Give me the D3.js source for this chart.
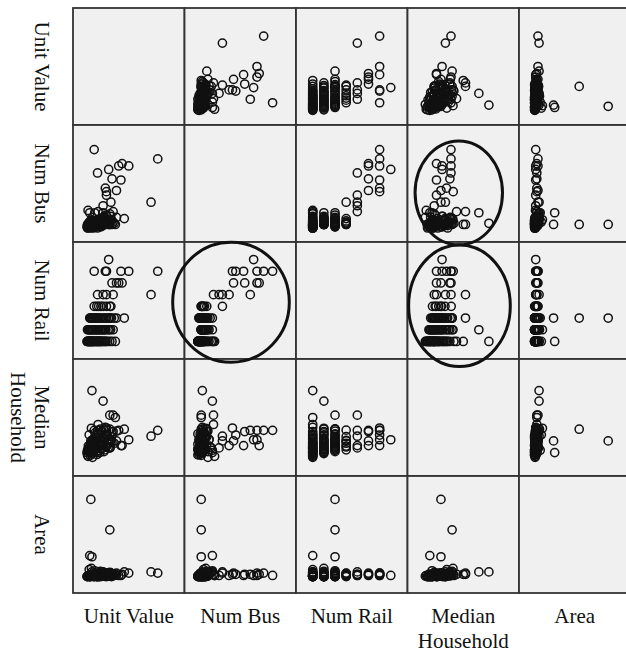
<!DOCTYPE html>
<html>
<head>
<meta charset="utf-8">
<script src="https://cdn.jsdelivr.net/npm/d3@7/dist/d3.min.js"></script>
<style>
  body { margin: 0; background: #fff; }
  svg { display: block; }
</style>
</head>
<body>
<svg id="chart" width="626" height="654"></svg>
<script>
// Variables of the scatterplot matrix, in row / column order
const variables = ['Unit Value', 'Num Bus', 'Num Rail', 'Median Household', 'Area'];

// One value per city in each array (same index = same record)
const unitValue = [
  608, 560, 152, 400, 352, 344, 280, 256, 176, 272, 240, 232, 216, 240, 368, 328, 312, 288, 128, 264, 120, 136, 136, 216, 264, 304,
  104, 112, 120, 128, 136, 144, 152, 160, 168, 176, 184, 192, 200, 208, 216, 224, 232, 248, 264, 280, 108, 116, 140, 180,
  100, 110, 124, 132, 146, 158, 172, 190, 204, 236,
  104, 118, 126, 138, 150, 158, 170, 186, 196, 210, 222, 236, 252, 270, 288, 132, 176,
  110, 122, 144, 164, 180, 202, 228, 260,
  120, 134, 148, 162, 178, 194, 206, 220, 238, 254, 276, 296, 312, 156,
  126, 142, 170, 186, 230, 266,
  152, 184, 216, 240, 264, 170, 200
];
const numBus = [
  59, 22, 67, 53, 55, 41, 42, 50, 47, 22, 28, 34, 19, 31, 8, 53, 32, 14, 3, 3, 13, 3, 4, 13, 3, 3,
  0, 1, 2, 0, 3, 1, 4, 2, 5, 0, 6, 3, 1, 8, 2, 10, 4, 7, 12, 3, 15, 5, 9, 14,
  1, 0, 3, 2, 0, 5, 1, 2, 4, 6,
  3, 4, 5, 3, 6, 4, 7, 5, 8, 3, 9, 6, 4, 10, 5, 7, 4,
  3, 5, 4, 6, 3, 5, 7, 4,
  1, 2, 4, 3, 6, 2, 8, 5, 11, 3, 7, 4, 9, 13,
  3, 1, 5, 2, 4, 6,
  3, 5, 8, 4, 6, 4, 3
];
const numRail = [
  6, 4, 6, 6, 5, 6, 5, 7, 4, 3, 4, 6, 4, 6, 2, 5, 5, 4, 2, 2, 0, 2, 0, 1, 2, 0,
  0, 0, 0, 0, 0, 0, 0, 0, 0, 0, 0, 0, 0, 0, 0, 0, 0, 0, 0, 0, 0, 0, 0, 0,
  0, 0, 0, 0, 0, 0, 0, 0, 0, 0,
  1, 1, 1, 1, 1, 1, 1, 1, 1, 1, 1, 1, 1, 1, 1, 1, 1,
  1, 1, 1, 1, 1, 1, 1, 1,
  2, 2, 2, 2, 2, 2, 2, 2, 2, 2, 2, 2, 2, 2,
  2, 2, 2, 2, 2, 2,
  3, 3, 3, 3, 3, 3, 3
];
const medianHousehold = [
  97.5, 85, 97.5, 77.5, 65, 65, 95, 77.5, 97.5, 75, 65, 87.5, 60, 102.5, 100, 97.5, 75, 130, 75, 100, 50, 75, 182.5, 160, 130, 125,
  45, 52, 60, 68, 48, 75, 55, 82, 62, 90, 70, 50, 58, 95, 66, 78, 104, 85, 60, 72, 42, 88, 40, 110,
  50, 58, 44, 64, 56, 70, 46, 54, 80, 62,
  55, 62, 70, 48, 80, 92, 58, 66, 100, 74, 52, 86, 60, 78, 95, 102, 50,
  64, 52, 76, 58, 88, 68, 56, 72,
  56, 64, 72, 58, 80, 90, 68, 100, 62, 76, 84, 70, 96, 55,
  62, 78, 52, 66, 88, 60,
  56, 70, 84, 98, 62, 64, 76
];
const area = [
  3.5, 4, 2.5, 3.5, 3, 2.5, 3, 2.5, 3, 3.5, 2.5, 3, 2.5, 3, 4, 2.5, 3.5, 3, 35, 22, 11, 10.5, 4, 4, 3.5, 3,
  2.0, 2.2, 2.5, 2.1, 3.0, 2.4, 2.0, 3.2, 2.6, 2.2, 3.5, 2.0, 2.8, 4.0, 2.3, 3.0, 2.5, 2.1, 3.8, 2.6, 2.4, 5.0, 2.2, 3.0,
  2.1, 2.3, 2.0, 2.6, 2.2, 2.9, 2.0, 2.4, 3.1, 2.2,
  2.0, 2.5, 3.0, 2.2, 2.0, 3.5, 2.6, 2.1, 4.2, 2.4, 3.1, 2.0, 2.8, 3.6, 2.3, 5.5, 2.0,
  2.2, 2.0, 2.7, 2.3, 3.0, 2.1, 2.5, 2.2,
  2.0, 2.6, 3.0, 2.2, 2.5, 3.4, 2.1, 2.8, 3.6, 2.3, 2.0, 3.0, 2.6, 4.5,
  2.3, 2.1, 2.9, 2.0, 2.4, 3.2,
  2.5, 3.0, 2.2, 3.4, 2.8, 2.0, 2.6
];

// Axis extents of each variable (cell edge to cell edge)
const domains = [[0, 800], [-12, 88], [-1.5, 8.5], [0, 250], [-5, 45]];

// Hand-drawn highlight ellipses, in the data units of their panel
const highlights = [
  { x: 'Median Household', y: 'Num Bus', cx: 115, cy: 30, rx: 98, ry: 44.4 },
  { x: 'Median Household', y: 'Num Rail', cx: 116.5, cy: 3.05, rx: 114, ry: 5.2 },
  { x: 'Num Bus', y: 'Num Rail', cx: 29.7, cy: 3.35, rx: 52.3, ry: 5.13 }
];

const gridLeft = 73, gridTop = 8, cellW = 111.5, cellH = 117;
const fontFamily = "'Liberation Serif', 'Times New Roman', serif";

const columns = [unitValue, numBus, numRail, medianHousehold, area];
const records = d3.range(unitValue.length).map(i => columns.map(c => c[i]));

const xScales = domains.map((d, j) =>
  d3.scaleLinear().domain(d).range([gridLeft + j * cellW, gridLeft + (j + 1) * cellW]));
const yScales = domains.map((d, i) =>
  d3.scaleLinear().domain(d).range([gridTop + (i + 1) * cellH, gridTop + i * cellH]));

const svg = d3.select('#chart');

// Panels
const cells = d3.cross(d3.range(variables.length), d3.range(variables.length))
  .map(([i, j]) => ({ i, j }));

const cell = svg.selectAll('g.cell')
  .data(cells)
  .enter()
  .append('g')
  .attr('class', 'cell');

cell.append('rect')
  .attr('x', d => xScales[d.j].range()[0])
  .attr('y', d => yScales[d.i].range()[1])
  .attr('width', cellW)
  .attr('height', cellH)
  .attr('fill', '#f0f0f0');

// Points in every off-diagonal panel
cell.filter(d => d.i !== d.j).each(function (d) {
  d3.select(this)
    .selectAll('circle')
    .data(records)
    .enter()
    .append('circle')
    .attr('cx', r => xScales[d.j](r[d.j]))
    .attr('cy', r => yScales[d.i](r[d.i]))
    .attr('r', 4.1)
    .attr('fill', 'none')
    .attr('stroke', '#111')
    .attr('stroke-width', 1.5);
});

// Panel borders on top of the points
cell.append('rect')
  .attr('x', d => xScales[d.j].range()[0])
  .attr('y', d => yScales[d.i].range()[1])
  .attr('width', cellW)
  .attr('height', cellH)
  .attr('fill', 'none')
  .attr('stroke', '#333')
  .attr('stroke-width', 1.8);

// Highlight ellipses
svg.selectAll('ellipse.highlight')
  .data(highlights)
  .enter()
  .append('ellipse')
  .attr('class', 'highlight')
  .attr('cx', h => xScales[variables.indexOf(h.x)](h.cx))
  .attr('cy', h => yScales[variables.indexOf(h.y)](h.cy))
  .attr('rx', h => {
    const s = xScales[variables.indexOf(h.x)];
    return s(h.cx + h.rx) - s(h.cx);
  })
  .attr('ry', h => {
    const s = yScales[variables.indexOf(h.y)];
    return s(h.cy - h.ry) - s(h.cy);
  })
  .attr('fill', 'none')
  .attr('stroke', '#111')
  .attr('stroke-width', 3);

// Long names break onto two lines
const splitLabel = v => (v.length > 12 ? v.split(' ') : [v]);

// Row labels, rotated clockwise
svg.selectAll('text.row-label')
  .data(variables)
  .enter()
  .append('text')
  .attr('class', 'row-label')
  .attr('transform', (v, i) => `translate(35,${gridTop + (i + 0.5) * cellH}) rotate(90)`)
  .attr('text-anchor', 'middle')
  .style('font-family', fontFamily)
  .style('font-size', '21px')
  .style('fill', '#111')
  .selectAll('tspan')
  .data(v => splitLabel(v))
  .enter()
  .append('tspan')
  .attr('x', 0)
  .attr('y', (l, k) => k * 24)
  .text(l => l);

// Column labels along the bottom
svg.selectAll('text.col-label')
  .data(variables)
  .enter()
  .append('text')
  .attr('class', 'col-label')
  .attr('text-anchor', 'middle')
  .attr('transform', (v, j) => `translate(${gridLeft + (j + 0.5) * cellW},623)`)
  .style('font-family', fontFamily)
  .style('font-size', '21px')
  .style('fill', '#111')
  .selectAll('tspan')
  .data(v => splitLabel(v))
  .enter()
  .append('tspan')
  .attr('x', 0)
  .attr('y', (l, k) => k * 25)
  .text(l => l);
</script>
</body>
</html>
